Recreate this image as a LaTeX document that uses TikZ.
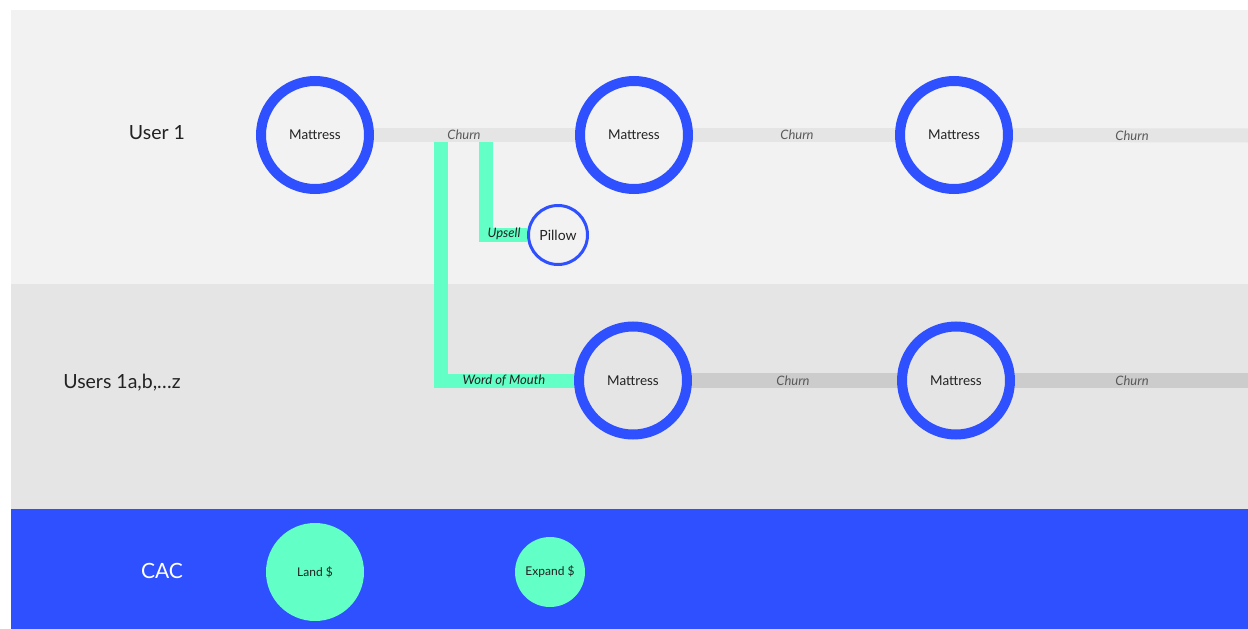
\documentclass[tikz,border=0pt]{standalone}
\usepackage{fontspec}
\setmainfont{Lato}
\definecolor{bandA}{HTML}{F2F2F2}
\definecolor{bandB}{HTML}{E5E5E5}
\definecolor{lineA}{HTML}{E5E5E5}
\definecolor{lineB}{HTML}{CCCCCC}
\definecolor{brandblue}{HTML}{2E50FF}
\definecolor{mint}{HTML}{62FFC6}
\definecolor{ink}{HTML}{222222}
\begin{document}
\begin{tikzpicture}[x=1pt,y=-1pt,
  mattress/.style={circle,draw=brandblue,line width=10pt,minimum size=108pt,inner sep=0pt,font=\fontsize{13.5}{16}\selectfont,text=ink},
  pillowbox/.style={circle,draw=brandblue,line width=3pt,minimum size=59pt,inner sep=0pt,font=\fontsize{14}{16}\selectfont,text=ink},
  money/.style={circle,fill=mint,inner sep=0pt,font=\fontsize{12}{14}\selectfont,text=ink},
  rowlabel/.style={font=\fontsize{19.5}{22}\selectfont,text=ink},
  churnA/.style={line width=14pt,draw=lineA},
  churnB/.style={line width=15pt,draw=lineB},
  greenpath/.style={line width=14pt,draw=mint},
  lbl/.style={font=\fontsize{13}{15}\selectfont\itshape,text=ink!75},
  greenlbl/.style={font=\fontsize{13}{15}\selectfont\itshape,text=ink}
]
\useasboundingbox (0,0) rectangle (1248,629);
\fill[white] (0,0) rectangle (1248,629);
\fill[bandA] (11,10) rectangle (1248,284);
\fill[bandB] (11,284) rectangle (1248,509);
\fill[brandblue] (11,509) rectangle (1248,629);

% row labels
\node[rowlabel] (u1) at (157,133) {User 1};
\node[rowlabel] (u2) at (122,383) {Users 1a,b,\ldots z};
\node[rowlabel,text=white,font=\fontsize{21}{24}\selectfont] (cac) at (162,571) {CAC};

% nodes
\node[mattress] (m1) at (315,135) {Mattress};
\node[mattress] (m2) at (634,135) {Mattress};
\node[mattress] (m3) at (954,135) {Mattress};
\node[mattress] (m4) at (633,380.5) {Mattress};
\node[mattress] (m5) at (956,380.5) {Mattress};
\node[pillowbox] (p) at (558,235) {Pillow};
\node[money,minimum size=98pt] (land) at (315,572) {Land \$};
\node[money,minimum size=70pt] (exp) at (550,572) {Expand \$};

\coordinate (e1) at (1248,135.5);
\coordinate (e2) at (1248,380.5);
\coordinate (g1) at (441,142);
\coordinate (g2) at (485.5,142);

% churn lines
\draw[churnA] (m1) -- (m2);
\draw[churnA] (m2) -- (m3);
\draw[churnA] (m3.east) -- (e1);
\draw[churnB] (m4) -- (m5);
\draw[churnB] (m5.east) -- (e2);

% green paths
\draw[greenpath] (g1) |- (m4.west);
\draw[greenpath] (g2) |- (p.west);

% labels
\node[lbl] (c1) at (464,135) {Churn};
\node[lbl] (c2) at (797,135) {Churn};
\node[lbl] (c3) at (1132,136) {Churn};
\node[lbl] (c4) at (793,381) {Churn};
\node[lbl] (c5) at (1132,381) {Churn};
\node[greenlbl] (up) at (504,234) {Upsell};
\node[greenlbl] (wom) at (504,381) {Word of Mouth};
\end{tikzpicture}
\end{document}
